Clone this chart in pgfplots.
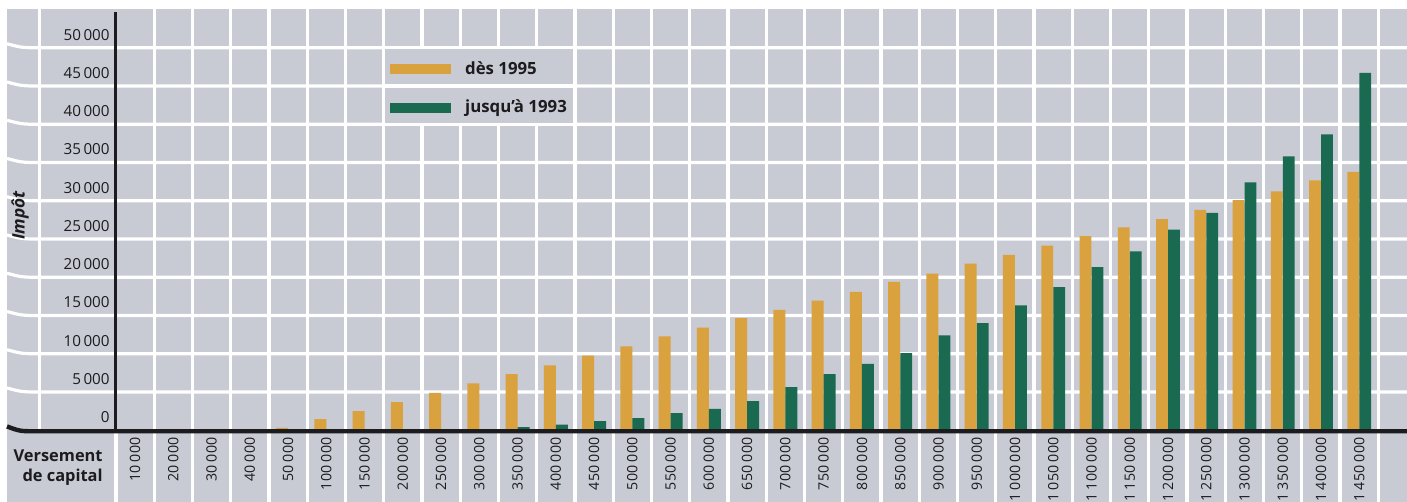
\documentclass[border=0pt]{standalone}
\usepackage{pgfplots}
\pgfplotsset{compat=1.18}
\usepackage{fontspec}
\setmainfont{Open Sans}
\definecolor{bg}{RGB}{200,202,212}
\definecolor{gold}{RGB}{218,162,62}
\definecolor{dgreen}{RGB}{26,106,82}
\definecolor{txt}{RGB}{28,28,30}
\pgfplotsset{rectleg/.style={legend image code/.code={\fill[##1] (0pt,-2.6pt) rectangle (30.5pt,2.6pt);}}}
\begin{document}
\begin{tikzpicture}
\def\c{19.125pt}
\useasboundingbox (-58pt,-35.875pt) rectangle (645.5pt,215.125pt);
% grey page and white grid
\fill[bg] (-54.5pt,-35.875pt) rectangle (645.5pt,210.375pt);
\foreach \k in {1,...,33}
  \draw[white,line width=1.6pt] ({\k*\c},-35.875pt) -- ({\k*\c},210.375pt);
\draw[white,line width=1.6pt] (0pt,-35.875pt) -- (0pt,0pt);
\draw[white,line width=1.6pt] (-38.25pt,0pt) -- (-38.25pt,210.375pt);
\foreach \j in {1,...,10}
  \draw[white,line width=1.6pt] (-54.5pt,{\j*\c+2pt}) .. controls (-47pt,{\j*\c}) .. (-38pt,{\j*\c}) -- (645.5pt,{\j*\c});
% legend panel
\fill[bg] (134.7pt,153.8pt) rectangle (228.7pt,190.45pt);
\draw[white,line width=1.6pt] (133.875pt,172.125pt) -- (229.5pt,172.125pt);
\begin{axis}[
  at={(0pt,0pt)}, anchor=south west,
  scale only axis, width=645.5pt, height=210.375pt,
  xmin=-0.5, xmax=33.25, ymin=0, ymax=55000,
  axis line style={draw=none},
  major tick length=0pt, minor tick length=0pt,
  xtick={0,...,32},
  xticklabels={10 000,20 000,30 000,40 000,50 000,100 000,150 000,200 000,250 000,300 000,350 000,400 000,450 000,500 000,550 000,600 000,650 000,700 000,750 000,800 000,850 000,900 000,950 000,1 000 000,1 050 000,1 100 000,1 150 000,1 200 000,1 250 000,1 300 000,1 350 000,1 400 000,1 450 000},
  ytick={0,5000,...,50000},
  yticklabels={0,5\,000,10\,000,15\,000,20\,000,25\,000,30\,000,35\,000,40\,000,45\,000,50\,000},
  scaled y ticks=false,
  xticklabel style={rotate=90, anchor=east, inner sep=0pt, font=\fontsize{7.1}{8}\selectfont, text=txt},
  xticklabel shift=3.5pt,
  yticklabel style={anchor=east, inner sep=0pt, yshift=6.5pt, font=\fontsize{7.6}{8}\selectfont, text=txt},
  yticklabel shift=3pt,
  xlabel={Versement\\de capital},
  xlabel style={at={(rel axis cs:0,0)}, anchor=east, align=right, inner sep=0pt, xshift=-6.5pt, yshift=-18.75pt, font=\bfseries\fontsize{8.2}{10}\selectfont, text=txt},
  ylabel={Impôt},
  ylabel style={at={(axis cs:-3.01,28040)}, anchor=center, inner sep=0pt, font=\bfseries\itshape\fontsize{8.6}{9}\selectfont, text=txt},
  every axis plot post/.append style={rectleg},
  legend style={at={(axis cs:6.5,50000)}, anchor=north west, draw=none, fill=none, inner xsep=3pt, inner ysep=6.5pt, row sep=11.5pt, column sep=7pt, font=\bfseries\fontsize{8.4}{9}\selectfont, text=txt, nodes={inner sep=0pt}},
  legend cell align=left,
]
\addplot[ybar, fill=gold, draw=none, bar width=0.31, bar shift=-0.157] coordinates {
(0,0) (1,0) (2,0) (3,0) (4,300) (5,1460) (6,2510) (7,3690) (8,4900) (9,6120)
(10,7350) (11,8470) (12,9740) (13,10950) (14,12260) (15,13400) (16,14670) (17,15750)
(18,16930) (19,18100) (20,19410) (21,20480) (22,21770) (23,22940) (24,24120) (25,25390)
(26,26510) (27,27610) (28,28820) (29,30090) (30,31220) (31,32650) (32,33790)};
\addplot[ybar, fill=dgreen, draw=none, bar width=0.31, bar shift=0.157] coordinates {
(0,0) (1,0) (2,0) (3,0) (4,0) (5,0) (6,0) (7,0) (8,0) (9,0)
(10,420) (11,720) (12,1200) (13,1600) (14,2250) (15,2810) (16,3820) (17,5650)
(18,7350) (19,8690) (20,10090) (21,12390) (22,14010) (23,16310) (24,18720) (25,21330)
(26,23370) (27,26210) (28,28430) (29,32390) (30,35790) (31,38670) (32,46730)};
\legend{dès 1995, jusqu'à 1993}
\end{axis}
\draw[txt, line width=2.2pt] (-54.5pt,1.9pt) .. controls (-48pt,-0.5pt) .. (-40pt,-0.5pt) -- (645.5pt,-0.5pt);
\draw[txt, line width=1.5pt] (0pt,-0.5pt) -- (0pt,208.9pt);
\end{tikzpicture}
\end{document}
